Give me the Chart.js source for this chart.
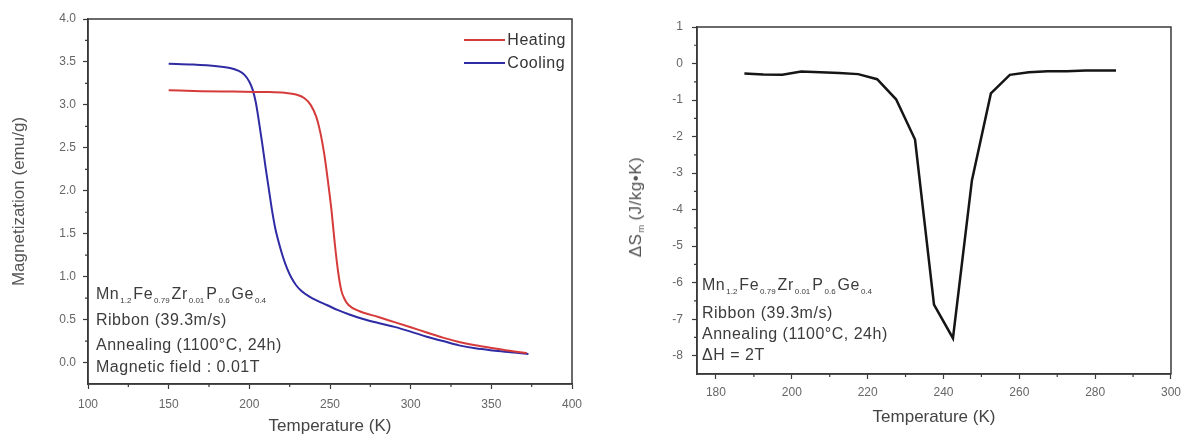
<!DOCTYPE html>
<html>
<head>
<meta charset="utf-8">
<title>Mn1.2Fe0.79Zr0.01P0.6Ge0.4 ribbon - M(T) and entropy change</title>
<script src="https://cdn.jsdelivr.net/npm/chart.js@4.4.1/dist/chart.umd.min.js"></script>
<style>
  body { margin: 0; background: #fff; font-family: "Liberation Sans", Arial, sans-serif; }
  #wrap { position: relative; width: 1187px; height: 440px; overflow: hidden; }
  .panel { position: absolute; top: 0; height: 440px; }
  .note { position: absolute; font-size: 16px; letter-spacing: 0.5px; line-height: 18px; color: #3c3c3c; white-space: nowrap; }
  .note sub { font-size: 8px; letter-spacing: 0; vertical-align: -4px; margin: 0 2px 0 1px; }
  .legend { position: absolute; right: 34px; top: 28px; font-size: 16px; letter-spacing: 0.5px; color: #333; }
  .legend-row { display: flex; align-items: center; height: 23px; }
  .legend-line { display: inline-block; width: 41px; height: 2px; margin-right: 2px; }
  .ytitle { position: absolute; font-size: 17px; letter-spacing: 0.5px; color: #555; white-space: nowrap;
            transform: translate(-50%, -50%) rotate(-90deg); }
  .ytitle sub { font-size: 9px; vertical-align: -3px; margin: 0 4px 0 1px; }
</style>
</head>
<body>
<div id="wrap">
  <div class="panel" style="left:0; width:600px;">
    <canvas id="magChart" width="600" height="440"></canvas>
    <div class="legend" id="magLegend"></div>
    <div class="note" style="left:96px; top:285px;">Mn<sub>1.2</sub>Fe<sub>0.79</sub>Zr<sub>0.01</sub>P<sub>0.6</sub>Ge<sub>0.4</sub></div>
    <div class="note" style="left:96px; top:311px;">Ribbon (39.3m/s)</div>
    <div class="note" style="left:96px; top:336px;">Annealing (1100°C, 24h)</div>
    <div class="note" style="left:96px; top:358px;">Magnetic field : 0.01T</div>
  </div>
  <div class="panel" style="left:600px; width:587px;">
    <canvas id="dsChart" width="587" height="440"></canvas>
    <div class="ytitle" style="left:36px; top:207px;">ΔS<sub>m</sub>(J/kg•K)</div>
    <div class="note" style="left:102px; top:276px;">Mn<sub>1.2</sub>Fe<sub>0.79</sub>Zr<sub>0.01</sub>P<sub>0.6</sub>Ge<sub>0.4</sub></div>
    <div class="note" style="left:102px; top:304px;">Ribbon (39.3m/s)</div>
    <div class="note" style="left:102px; top:325px;">Annealing (1100°C, 24h)</div>
    <div class="note" style="left:102px; top:346px;">ΔH = 2T</div>
  </div>
</div>
<script>
// magnetization vs temperature
const heatT = [150, 170, 190, 210, 222, 229, 234, 238, 241.5, 244, 246.5, 249, 251, 253, 255, 257, 259, 261.5, 268, 280, 290, 300, 310, 320, 330, 340, 350, 360, 372];
const heatM = [3.17, 3.16, 3.155, 3.15, 3.14, 3.12, 3.08, 3.00, 2.86, 2.68, 2.42, 2.07, 1.76, 1.38, 1.06, 0.84, 0.74, 0.67, 0.60, 0.53, 0.47, 0.41, 0.35, 0.29, 0.24, 0.20, 0.17, 0.14, 0.11];
const coolT = [150, 165, 180, 188, 193, 197, 200, 202, 204, 206, 208, 210, 212, 214, 216, 218.5, 221, 223.5, 226, 229, 232.5, 237, 242, 248, 255, 262, 270, 280, 290, 300, 310, 320, 330, 340, 351, 362, 373];
const coolM = [3.48, 3.47, 3.45, 3.43, 3.40, 3.35, 3.27, 3.18, 3.03, 2.80, 2.55, 2.28, 2.03, 1.78, 1.57, 1.38, 1.22, 1.09, 0.99, 0.90, 0.83, 0.77, 0.72, 0.67, 0.61, 0.56, 0.51, 0.46, 0.415, 0.36, 0.30, 0.25, 0.20, 0.165, 0.14, 0.12, 0.10];

const magXTicks = [100, 150, 200, 250, 300, 350, 400];
const magXMinor = [125, 175, 225, 275, 325, 375];
const magYTicks = [0, 0.5, 1.0, 1.5, 2.0, 2.5, 3.0, 3.5, 4.0];
const magYMinor = [0.25, 0.75, 1.25, 1.75, 2.25, 2.75, 3.25, 3.75];

// entropy change, right panel
const dsT = [187.5, 192.5, 197.5, 202.5, 207.5, 212.5, 217.5, 222.5, 227.5, 232.5, 237.5, 242.5, 247.5, 252.5, 257.5, 262.5, 267.5, 272.5, 277.5, 282.5, 285.5];
const dsV = [-0.27, -0.30, -0.31, -0.22, -0.24, -0.26, -0.29, -0.43, -0.98, -2.08, -6.6, -7.52, -3.2, -0.82, -0.31, -0.24, -0.21, -0.21, -0.19, -0.19, -0.19];

const dsXTicks = [180, 200, 220, 240, 260, 280, 300];
const dsXMinor = [190, 210, 230, 250, 270, 290];
const dsYTicks = [1, 0, -1, -2, -3, -4, -5, -6, -7, -8];
const dsYMinor = [0.5, -0.5, -1.5, -2.5, -3.5, -4.5, -5.5, -6.5, -7.5];

const AXIS = '#3a3a3a';
const TICK_TEXT = '#666';
const FONT = '"Liberation Sans", Arial, sans-serif';

function toPoints(xs, ys) {
    return xs.map((x, i) => ({ x: x, y: ys[i] }));
}

// closed box round the plot area
const boxFrame = {
    id: 'boxFrame',
    afterDraw(chart) {
        const a = chart.chartArea;
        const ctx = chart.ctx;
        ctx.save();
        ctx.strokeStyle = AXIS;
        ctx.lineWidth = 1.5;
        ctx.strokeRect(a.left, a.top, a.right - a.left, a.bottom - a.top);
        ctx.restore();
    }
};

// short outward ticks between the labelled ones
function minorTicks(xMinor, yMinor) {
    return {
        id: 'minorTicks',
        afterDraw(chart) {
            const a = chart.chartArea;
            const ctx = chart.ctx;
            ctx.save();
            ctx.strokeStyle = AXIS;
            ctx.lineWidth = 1.2;
            ctx.beginPath();
            xMinor.forEach(v => {
                const px = chart.scales.x.getPixelForValue(v);
                ctx.moveTo(px, a.bottom);
                ctx.lineTo(px, a.bottom + 3);
            });
            yMinor.forEach(v => {
                const py = chart.scales.y.getPixelForValue(v);
                ctx.moveTo(a.left, py);
                ctx.lineTo(a.left - 3, py);
            });
            ctx.stroke();
            ctx.restore();
        }
    };
}

function axisStyle(extra) {
    return Object.assign({
        type: 'linear',
        grid: { drawOnChartArea: false, drawTicks: true, tickLength: 5, tickColor: AXIS, tickWidth: 1.2 },
        border: { display: true, color: AXIS, width: 1.5 }
    }, extra);
}

function buildLegend(chart, el) {
    chart.data.datasets.forEach(ds => {
        const row = document.createElement('div');
        row.className = 'legend-row';
        const line = document.createElement('span');
        line.className = 'legend-line';
        line.style.background = ds.borderColor;
        const txt = document.createElement('span');
        txt.textContent = ds.label;
        row.append(line, txt);
        el.appendChild(row);
    });
}

const magChart = new Chart(document.getElementById('magChart'), {
    type: 'line',
    data: {
        datasets: [
            {
                label: 'Heating',
                data: toPoints(heatT, heatM),
                borderColor: '#d63b3b',
                borderWidth: 2,
                pointRadius: 0,
                cubicInterpolationMode: 'monotone',
                fill: false
            },
            {
                label: 'Cooling',
                data: toPoints(coolT, coolM),
                borderColor: '#2e2ba4',
                borderWidth: 2,
                pointRadius: 0,
                cubicInterpolationMode: 'monotone',
                fill: false
            }
        ]
    },
    options: {
        responsive: false,
        animation: false,
        layout: { padding: { left: 0, top: 19, right: 28, bottom: 0 } },
        plugins: { legend: { display: false }, tooltip: { enabled: false } },
        scales: {
            x: axisStyle({
                min: 100, max: 400,
                afterBuildTicks: s => { s.ticks = magXTicks.map(v => ({ value: v })); },
                afterFit: s => { s.height = 56; },
                ticks: { padding: 8, color: TICK_TEXT, font: { family: FONT, size: 12 } },
                title: { display: true, text: 'Temperature (K)', color: '#444',
                         font: { family: FONT, size: 17 }, padding: { top: 0, bottom: 3 } }
            }),
            y: axisStyle({
                min: -0.25, max: 4.0,
                afterBuildTicks: s => { s.ticks = magYTicks.map(v => ({ value: v })); },
                afterFit: s => { s.width = 88; },
                ticks: { padding: 7, color: TICK_TEXT, font: { family: FONT, size: 12 },
                         callback: v => v.toFixed(1) },
                title: { display: true, text: 'Magnetization (emu/g)', color: '#555',
                         font: { family: FONT, size: 17 }, padding: { top: 9, bottom: 0 } }
            })
        }
    },
    plugins: [boxFrame, minorTicks(magXMinor, magYMinor)]
});
buildLegend(magChart, document.getElementById('magLegend'));

new Chart(document.getElementById('dsChart'), {
    type: 'line',
    data: {
        datasets: [{
            label: 'ΔSm',
            data: toPoints(dsT, dsV),
            borderColor: '#151515',
            borderWidth: 2.5,
            pointRadius: 0,
            tension: 0,
            fill: false
        }]
    },
    options: {
        responsive: false,
        animation: false,
        layout: { padding: { left: 0, top: 27, right: 15, bottom: 0 } },
        plugins: { legend: { display: false }, tooltip: { enabled: false } },
        scales: {
            x: axisStyle({
                min: 175, max: 300,
                afterBuildTicks: s => { s.ticks = dsXTicks.map(v => ({ value: v })); },
                afterFit: s => { s.height = 66; },
                ticks: { padding: 6, color: TICK_TEXT, font: { family: FONT, size: 12 } },
                title: { display: true, text: 'Temperature (K)', color: '#444',
                         font: { family: FONT, size: 17 }, padding: { top: 0, bottom: 12 } }
            }),
            y: axisStyle({
                min: -8.5, max: 1,
                afterBuildTicks: s => { s.ticks = dsYTicks.map(v => ({ value: v })); },
                afterFit: s => { s.width = 97; },
                ticks: { padding: 9, color: TICK_TEXT, font: { family: FONT, size: 12 } }
            })
        }
    },
    plugins: [boxFrame, minorTicks(dsXMinor, dsYMinor)]
});
</script>
</body>
</html>
